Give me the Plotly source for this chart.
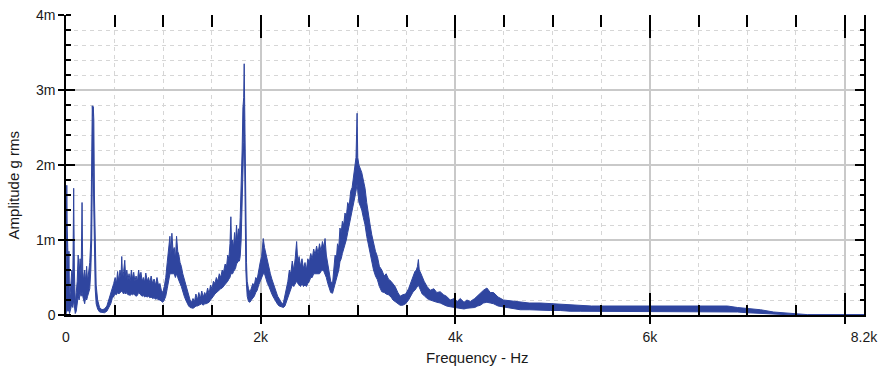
import plotly.graph_objects as go

# Vibration spectrum, frequency in Hz; amplitude envelope (upper / lower edge of the noisy trace)
# in milli-g rms. Listed band by band.
freq_hz = [
    # 0 - 475 Hz
    0, 8, 12, 18, 24, 30, 36, 44, 52, 60,
    70, 79, 86, 95, 105, 115, 125, 135, 145, 155,
    165, 172, 182, 192, 203, 212, 222, 232, 244, 255,
    264, 270, 276, 280, 286, 292, 300, 310, 325, 345,
    370, 395, 420, 440, 460, 475,
    # 490 - 995 Hz
    490, 505, 518, 530, 542, 555, 565, 573, 582, 592,
    604, 614, 625, 636, 648, 660, 672, 684, 696, 708,
    720, 733, 746, 758, 770, 783, 795, 808, 820, 835,
    848, 861, 875, 890, 905, 920, 935, 950, 965, 980,
    995,
    # 1010 - 1500 Hz
    1010, 1025, 1040, 1055, 1068, 1078, 1088, 1100, 1112, 1124,
    1136, 1148, 1160, 1172, 1185, 1200, 1215, 1230, 1245, 1260,
    1275, 1290, 1305, 1320, 1335, 1350, 1365, 1380, 1395, 1410,
    1425, 1440, 1455, 1470, 1485, 1500,
    # 1515 - 1995 Hz
    1515, 1530, 1545, 1560, 1575, 1590, 1605, 1620, 1635, 1650,
    1662, 1674, 1685, 1694, 1702, 1712, 1722, 1732, 1742, 1752,
    1762, 1772, 1782, 1790, 1800, 1810, 1818, 1826, 1831, 1836,
    1842, 1848, 1855, 1862, 1875, 1890, 1905, 1920, 1935, 1950,
    1965, 1980, 1995,
    # 2010 - 2500 Hz
    2010, 2027, 2040, 2055, 2070, 2085, 2100, 2115, 2130, 2145,
    2160, 2175, 2190, 2205, 2220, 2235, 2250, 2265, 2280, 2295,
    2310, 2325, 2340, 2355, 2370, 2382, 2395, 2410, 2425, 2440,
    2456, 2470, 2485, 2500,
    # 2515 - 2998 Hz
    2515, 2530, 2545, 2560, 2575, 2590, 2605, 2620, 2635, 2650,
    2662, 2675, 2690, 2705, 2720, 2739, 2752, 2765, 2778, 2790,
    2803, 2815, 2828, 2840, 2853, 2867, 2880, 2895, 2910, 2925,
    2940, 2955, 2968, 2980, 2991, 2998,
    # 3010 - 3490 Hz
    3010, 3025, 3039, 3055, 3073, 3090, 3107, 3125, 3142, 3160,
    3180, 3200, 3220, 3245, 3270, 3290, 3313, 3340, 3360, 3382,
    3410, 3433, 3460, 3490,
    # 3520 - 4496 Hz
    3520, 3545, 3567, 3585, 3600, 3612, 3621, 3630, 3645, 3660,
    3680, 3710, 3742, 3780, 3810, 3845, 3880, 3910, 3948, 3990,
    4020, 4051, 4090, 4120, 4154, 4200, 4230, 4257, 4290, 4325,
    4360, 4393, 4440, 4496,
    # 4560 - 8200 Hz
    4560, 4620, 4668, 4760, 4873, 4980, 5079, 5180, 5285, 5400,
    5491, 5650, 5800, 5950, 6108, 6250, 6417, 6600, 6797, 6900,
    7003, 7137, 7271, 7374, 7476, 7620, 8200,
]
amp_upper_mg = [
    0.3, 1.73, 1.2, 0.9, 0.55, 0.85, 0.2, 0.3, 0.45, 0.6,
    0.5, 1.69, 0.6, 0.15, 0.3, 0.45, 0.8, 0.55, 0.75, 0.5,
    1.5, 0.6, 0.45, 0.6, 0.45, 0.65, 0.45, 0.6, 0.7, 1.0,
    1.9, 2.79, 2.65, 2.78, 2.6, 1.6, 0.7, 0.4, 0.2, 0.1,
    0.07, 0.08, 0.12, 0.2, 0.3, 0.36,

    0.42, 0.5, 0.42, 0.58, 0.45, 0.6, 0.5, 0.78, 0.48, 0.58,
    0.73, 0.48, 0.6, 0.47, 0.55, 0.45, 0.6, 0.48, 0.57, 0.45,
    0.52, 0.44, 0.6, 0.5, 0.57, 0.45, 0.5, 0.44, 0.56, 0.45,
    0.5, 0.43, 0.52, 0.42, 0.48, 0.4, 0.5, 0.4, 0.42, 0.33,
    0.3,

    0.38, 0.5, 0.7, 0.85, 1.05, 0.8, 1.09, 0.85, 0.9, 0.75,
    1.05, 0.85, 0.8, 0.7, 0.65, 0.55, 0.48, 0.4, 0.32, 0.25,
    0.2, 0.17, 0.22, 0.18, 0.28, 0.2, 0.3, 0.22, 0.32, 0.24,
    0.3, 0.26, 0.36, 0.28, 0.4, 0.35,

    0.45, 0.42, 0.5, 0.45, 0.55, 0.5, 0.6, 0.58, 0.68, 0.65,
    0.8, 0.75, 0.95, 1.31, 0.9, 1.0, 0.9, 1.1, 0.95, 1.2,
    1.0, 1.15, 1.05, 1.3, 1.7, 2.2, 2.76, 2.9, 3.35, 2.7,
    2.0, 1.2, 0.7, 0.45, 0.35, 0.3, 0.38, 0.42, 0.4, 0.5,
    0.48, 0.62, 0.7,

    0.78, 1.02, 0.9, 0.8, 0.72, 0.62, 0.55, 0.48, 0.42, 0.35,
    0.3, 0.25, 0.22, 0.18, 0.15, 0.17, 0.25, 0.35, 0.45, 0.6,
    0.55, 0.72, 0.6, 0.75, 0.98, 0.7, 0.78, 0.65, 0.75, 0.62,
    0.7, 0.6, 0.75, 0.7,

    0.82, 0.75, 0.88, 0.8, 0.92, 0.82, 0.95, 0.85, 0.98, 0.9,
    1.02, 0.8, 0.7, 0.55, 0.45, 0.42, 0.6, 0.8, 0.75, 0.95,
    0.9, 1.16, 1.1, 1.25, 1.2, 1.36, 1.3, 1.5, 1.45, 1.65,
    1.7, 1.85, 2.05, 2.1, 2.69, 2.1,

    2.0, 1.95, 1.9, 1.8, 1.69, 1.5, 1.38, 1.2, 1.07, 0.95,
    0.85, 0.78, 0.65, 0.6, 0.52, 0.55, 0.48, 0.45, 0.42, 0.38,
    0.3, 0.25, 0.27, 0.28,

    0.35, 0.45, 0.52, 0.58, 0.6, 0.65, 0.74, 0.6, 0.56, 0.5,
    0.45, 0.38, 0.33, 0.35, 0.3, 0.31, 0.27, 0.25, 0.2, 0.22,
    0.18, 0.22, 0.17, 0.2, 0.18, 0.22, 0.26, 0.3, 0.33, 0.36,
    0.3, 0.3, 0.24, 0.2,

    0.19, 0.18, 0.18, 0.16, 0.16, 0.15, 0.15, 0.14, 0.13, 0.12,
    0.12, 0.12, 0.11, 0.12, 0.11, 0.12, 0.12, 0.12, 0.12, 0.1,
    0.09, 0.07, 0.04, 0.03, 0.02, 0.005, 0.005,
]
amp_lower_mg = [
    0.0, 0.1, 0.05, 0.1, 0.05, 0.1, 0.02, 0.05, 0.1, 0.15,
    0.1, 0.2, 0.1, 0.02, 0.05, 0.15, 0.25, 0.2, 0.3, 0.25,
    0.3, 0.25, 0.2, 0.15, 0.25, 0.2, 0.25, 0.3, 0.35, 0.6,
    1.0, 1.8, 2.0, 1.9, 1.4, 0.8, 0.35, 0.15, 0.08, 0.04,
    0.03, 0.03, 0.05, 0.1, 0.15, 0.22,

    0.25, 0.28, 0.27, 0.3, 0.28, 0.3, 0.3, 0.32, 0.3, 0.28,
    0.3, 0.28, 0.3, 0.27, 0.27, 0.26, 0.28, 0.27, 0.28, 0.26,
    0.25, 0.26, 0.3, 0.28, 0.27, 0.25, 0.26, 0.24, 0.25, 0.24,
    0.25, 0.23, 0.24, 0.22, 0.23, 0.21, 0.22, 0.2, 0.2, 0.18,
    0.17,

    0.2, 0.25, 0.35, 0.45, 0.55, 0.55, 0.55, 0.55, 0.55, 0.5,
    0.55, 0.5, 0.45, 0.42, 0.38, 0.3, 0.25, 0.2, 0.15, 0.12,
    0.1, 0.09, 0.09, 0.1, 0.12, 0.12, 0.13, 0.13, 0.15, 0.13,
    0.15, 0.15, 0.16, 0.17, 0.2, 0.22,

    0.25, 0.28, 0.3, 0.32, 0.33, 0.35, 0.36, 0.38, 0.4, 0.42,
    0.45, 0.48, 0.5, 0.55, 0.55, 0.55, 0.58, 0.6, 0.62, 0.68,
    0.7, 0.72, 0.72, 0.78, 1.0, 1.4, 2.0, 2.3, 2.6, 1.9,
    1.1, 0.6, 0.4, 0.25, 0.18, 0.17, 0.2, 0.22, 0.25, 0.3,
    0.33, 0.4, 0.45,

    0.5, 0.55, 0.55, 0.48, 0.42, 0.38, 0.32, 0.28, 0.24, 0.2,
    0.17, 0.14, 0.12, 0.11, 0.1, 0.1, 0.12, 0.18, 0.25, 0.3,
    0.35, 0.4, 0.38, 0.42, 0.45, 0.42, 0.4, 0.38, 0.42, 0.38,
    0.4, 0.38, 0.42, 0.45,

    0.5, 0.5, 0.55, 0.55, 0.55, 0.55, 0.55, 0.58, 0.6, 0.58,
    0.55, 0.5, 0.42, 0.35, 0.3, 0.29, 0.35, 0.42, 0.5, 0.55,
    0.6, 0.71, 0.75, 0.82, 0.88, 0.93, 1.0, 1.1, 1.2, 1.3,
    1.35, 1.45, 1.55, 1.65, 1.75, 1.6,

    1.5, 1.45, 1.4, 1.3, 1.2, 1.05, 0.93, 0.8, 0.71, 0.6,
    0.52, 0.47, 0.38, 0.31, 0.3, 0.28, 0.27, 0.24, 0.2, 0.18,
    0.15, 0.13, 0.13, 0.15,

    0.2, 0.26, 0.31, 0.33, 0.36, 0.38, 0.4, 0.37, 0.33, 0.28,
    0.26, 0.22, 0.2, 0.18, 0.17, 0.16, 0.14, 0.12, 0.11, 0.1,
    0.1, 0.09, 0.08, 0.09, 0.09, 0.1, 0.12, 0.13, 0.16, 0.17,
    0.16, 0.15, 0.12, 0.11,

    0.09, 0.08, 0.07, 0.07, 0.06, 0.06, 0.06, 0.05, 0.05, 0.05,
    0.05, 0.05, 0.05, 0.05, 0.05, 0.05, 0.05, 0.05, 0.05, 0.04,
    0.03, 0.02, 0.01, 0.005, 0.0, 0.0, 0.0,
]
assert len(freq_hz) == len(amp_upper_mg) == len(amp_lower_mg)

x_tick_vals = [0, 2000, 4000, 6000, 8000, 8200]
x_tick_text = ["0", "2k", "4k", "6k", "", "8.2k"]
y_tick_vals = [0, 1, 2, 3, 4]
y_tick_text = ["0", "1m", "2m", "3m", "4m"]

LINE = "#2f459f"
MAJOR_GRID = "#c9c9c9"
MINOR_GRID = "#d6d6d6"
FONT = "Liberation Sans, Arial, sans-serif"
X_RANGE = [0, 8200]
Y_RANGE = [0, 4]

fig = go.Figure()
fig.add_trace(go.Scatter(
    x=freq_hz, y=amp_lower_mg, mode="lines",
    line=dict(color=LINE, width=1), hoverinfo="skip", showlegend=False,
))
fig.add_trace(go.Scatter(
    x=freq_hz, y=amp_upper_mg, mode="lines", fill="tonexty", fillcolor=LINE,
    line=dict(color=LINE, width=1), showlegend=False,
    hovertemplate="%{x:.0f} Hz<br>%{y:.2f}m g<extra></extra>",
))

fig.update_layout(
    width=880, height=366,
    margin=dict(l=66, r=16, t=15, b=51, autoexpand=False),
    paper_bgcolor="white", plot_bgcolor="white",
    font=dict(family=FONT, size=14, color="#1a1a1a"),
    xaxis=dict(
        range=X_RANGE, tickmode="array", tickvals=x_tick_vals, ticktext=x_tick_text,
        showline=True, linecolor="black", linewidth=2, automargin=False,
        ticks="inside", ticklen=22, tickwidth=2, tickcolor="black",
        ticklabelstandoff=8,
        showgrid=True, gridcolor=MAJOR_GRID, gridwidth=2, zeroline=False,
        minor=dict(tickmode="linear", tick0=0, dtick=500, ticks="inside", ticklen=10,
                   tickwidth=1.5, tickcolor="black", showgrid=True,
                   gridcolor=MINOR_GRID, griddash="4px,4px", gridwidth=1),
        tickfont=dict(size=14),
    ),
    xaxis2=dict(
        overlaying="x", anchor="y", side="bottom", range=X_RANGE, automargin=False,
        tickmode="array", tickvals=[2000, 4000, 6000, 8000],
        ticks="outside", ticklen=8, tickwidth=2, tickcolor="black",
        showticklabels=False, showgrid=False, showline=False, zeroline=False,
    ),
    xaxis3=dict(
        overlaying="x", anchor="y", side="top", range=X_RANGE, automargin=False,
        tickmode="array", tickvals=[2000, 4000, 6000, 8000],
        ticks="inside", ticklen=23, tickwidth=2, tickcolor="black",
        minor=dict(tickmode="linear", tick0=0, dtick=500, ticks="inside", ticklen=12,
                   tickwidth=1.5, tickcolor="black", showgrid=False),
        showticklabels=False, showgrid=False, showline=False, zeroline=False,
    ),
    yaxis=dict(
        range=Y_RANGE, tickmode="array", tickvals=y_tick_vals, ticktext=y_tick_text,
        showline=True, linecolor="black", linewidth=1.5, automargin=False,
        ticks="outside", ticklen=6, tickwidth=2, tickcolor="black",
        showgrid=True, gridcolor=MAJOR_GRID, gridwidth=2, zeroline=False,
        minor=dict(tickmode="linear", tick0=0, dtick=0.2, ticks="inside", ticklen=5,
                   tickwidth=1.5, tickcolor="black", showgrid=True,
                   gridcolor=MINOR_GRID, griddash="4px,4px", gridwidth=1),
        tickfont=dict(size=14),
    ),
    yaxis2=dict(
        overlaying="y", anchor="x", side="left", range=Y_RANGE, automargin=False,
        tickmode="array", tickvals=[1, 2, 3],
        ticks="inside", ticklen=9, tickwidth=2, tickcolor="black",
        showticklabels=False, showgrid=False, showline=False, zeroline=False,
    ),
    yaxis3=dict(
        overlaying="y", anchor="x", side="right", range=Y_RANGE, automargin=False,
        tickmode="array", tickvals=[1, 2, 3],
        ticks="inside", ticklen=9, tickwidth=2, tickcolor="black",
        minor=dict(tickmode="linear", tick0=0, dtick=0.2, ticks="inside", ticklen=4,
                   tickwidth=1.5, tickcolor="black", showgrid=False),
        showticklabels=False, showgrid=False, showline=True, linecolor="black",
        linewidth=2, zeroline=False,
    ),
    annotations=[
        dict(text="Frequency - Hz", xref="paper", yref="paper",
             x=0.5157, y=-0.14, xanchor="center", yanchor="middle",
             showarrow=False, font=dict(size=15)),
        dict(text="Amplitude g rms", xref="paper", yref="paper",
             x=-0.066, y=0.433, xanchor="center", yanchor="middle", textangle=-90,
             showarrow=False, font=dict(size=15)),
    ],
)

# empty traces so the overlay axes (extra tick sets) are rendered
for xa, ya in (("x2", "y"), ("x3", "y"), ("x", "y2"), ("x", "y3")):
    fig.add_trace(go.Scatter(x=[None], y=[None], xaxis=xa, yaxis=ya,
                             showlegend=False, hoverinfo="skip"))

fig.write_html("out.html")
